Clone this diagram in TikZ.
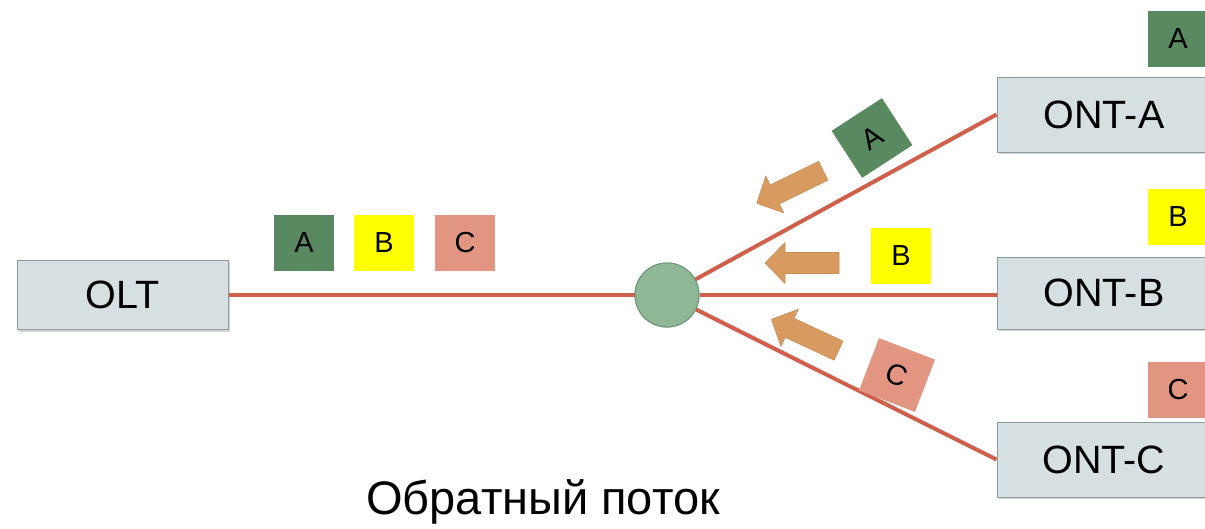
\documentclass[tikz,border=0pt]{standalone}
\usepackage{fontspec}
\setmainfont{Liberation Sans}
\usetikzlibrary{shadows}
\definecolor{boxfill}{RGB}{214,224,226}
\definecolor{boxdraw}{RGB}{140,155,158}
\definecolor{sqgreen}{RGB}{88,137,95}
\definecolor{sqyellow}{RGB}{255,255,0}
\definecolor{sqsalmon}{RGB}{226,150,130}
\definecolor{fiber}{RGB}{208,95,75}
\definecolor{splfill}{RGB}{143,184,150}
\definecolor{spldraw}{RGB}{110,150,118}
\definecolor{arrfill}{RGB}{216,155,95}
\definecolor{arrdraw}{RGB}{200,140,85}
\tikzset{
  devbox/.style={draw=boxdraw, line width=1pt, fill=boxfill, inner sep=0pt,
    drop shadow={shadow xshift=2pt, shadow yshift=-2pt, opacity=0.35},
    font=\fontsize{39.5}{41}\selectfont},
  pkt/.style={inner sep=0pt, minimum width=60pt, minimum height=56pt,
    font=\fontsize{29}{30}\selectfont},
  fiberline/.style={draw=fiber, line width=4pt},
  splitter/.style={circle, draw=spldraw, line width=1pt, fill=splfill, minimum size=64pt, inner sep=0pt},
  blockarrow/.style={fill=arrfill, draw=arrdraw, line width=0.6pt, line join=round}
}
\newcommand\myblockarrow[2]{%
  \begin{scope}[shift={#1}, rotate=#2]
    \path[blockarrow] (-37,-10.5) -- (17,-10.5) -- (17,-20.5) -- (37,0) -- (17,20.5) -- (17,10.5) -- (-37,10.5) -- cycle;
  \end{scope}}
\begin{document}
\begin{tikzpicture}[x=1pt, y=-1pt]
\useasboundingbox (0,0) rectangle (1205,528);
\clip (0,0) rectangle (1205,528);
% devices
\node[devbox, minimum width=211pt, minimum height=69pt] (olt) at (122.5,295) {OLT};
\node[devbox, minimum width=214pt, minimum height=75pt] (onta) at (1104,114.5) {ONT-A};
\node[devbox, minimum width=214pt, minimum height=72pt] (ontb) at (1104,293) {ONT-B};
\node[devbox, minimum width=214pt, minimum height=75pt] (ontc) at (1104,459.5) {ONT-C};
% splitter
\node[splitter] (spl) at (667,295) {};
% fibers
\draw[fiberline] (olt.east) -- (spl.west);
\draw[fiberline] (spl) -- (onta.west);
\draw[fiberline] (spl.east) -- (ontb.west |- spl.east);
\draw[fiberline] (spl) -- (ontc.west);
\node[splitter] at (spl) {};
% packets on the trunk
\node[pkt, fill=sqgreen] (pa) at (304,243) {A};
\node[pkt, fill=sqyellow] (pb) at (384,243) {B};
\node[pkt, fill=sqsalmon] (pc) at (465,243) {C};
% packets at the ONTs
\node[pkt, fill=sqgreen] (oa) at (1178,38.5) {A};
\node[pkt, fill=sqyellow] (ob) at (1178,216.5) {B};
\node[pkt, fill=sqsalmon] (oc) at (1178,389.5) {C};
% packets on the branches
\node[pkt, fill=sqgreen, rotate=33] (ba) at (872,138) {A};
\node[pkt, fill=sqyellow] (bb) at (901,256) {B};
\node[pkt, fill=sqsalmon, rotate=-21] (bc) at (897,375) {C};
% upstream arrows
\myblockarrow{(790,187)}{206}
\myblockarrow{(802,263)}{180}
\myblockarrow{(805,335)}{155}
% caption
\node[font=\fontsize{47}{49}\selectfont, anchor=base] (cap) at (543,514) {Обратный поток};
\end{tikzpicture}
\end{document}
